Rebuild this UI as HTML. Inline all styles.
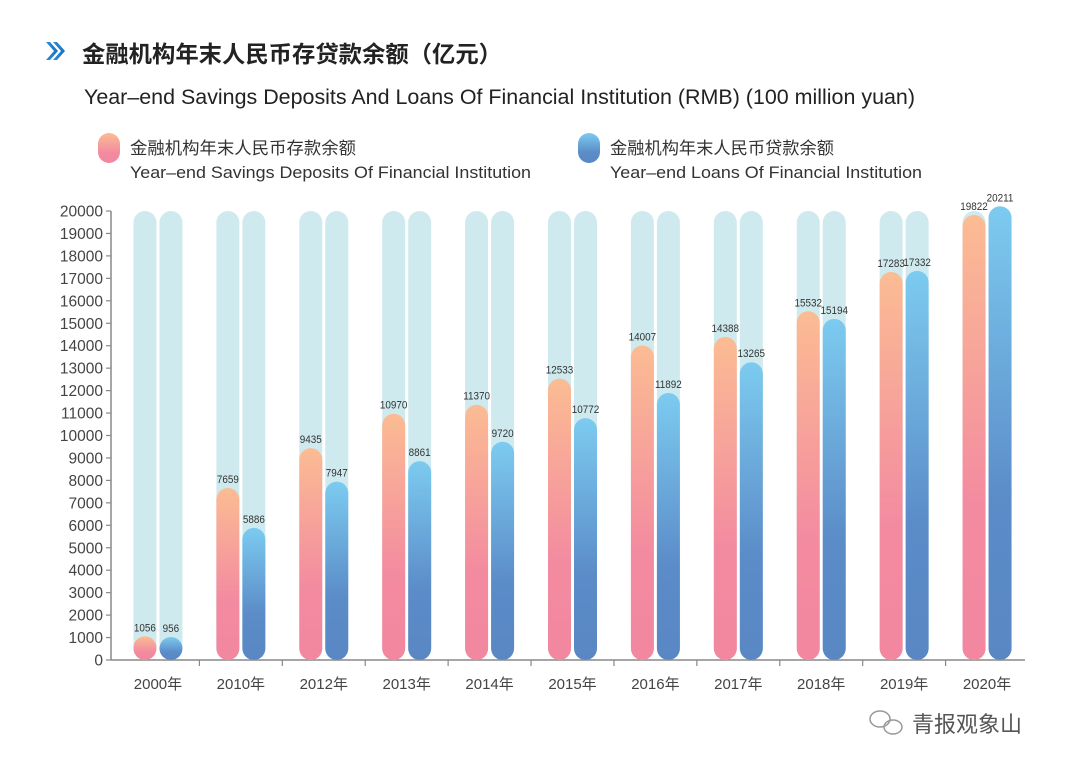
<!DOCTYPE html>
<html><head><meta charset="utf-8"><style>
body{margin:0;background:#fff;width:1080px;height:771px;overflow:hidden;font-family:"Liberation Sans","Noto Sans CJK SC",sans-serif;}
</style></head><body>
<svg width="1080" height="771" viewBox="0 0 1080 771" font-family="Liberation Sans, Noto Sans CJK SC, sans-serif">
<defs>
<linearGradient id="gDep" x1="0" y1="0" x2="0" y2="1"><stop offset="0" stop-color="#fbbc93"/><stop offset="0.65" stop-color="#f38ba0"/><stop offset="1" stop-color="#f2879f"/></linearGradient>
<linearGradient id="gLoan" x1="0" y1="0" x2="0" y2="1"><stop offset="0" stop-color="#7ccbf0"/><stop offset="0.65" stop-color="#5b8cc8"/><stop offset="1" stop-color="#5987c4"/></linearGradient>
<linearGradient id="gIcon" x1="0" y1="0" x2="1" y2="0"><stop offset="0" stop-color="#2a8fd8"/><stop offset="1" stop-color="#1a6fc0"/></linearGradient>
</defs>
<g>
<path d="M46 42 L54 51 L46 60 L50 60 L58 51 L50 42Z" fill="url(#gIcon)"/>
<path d="M53 42 L61 51 L53 60 L57 60 L65 51 L57 42Z" fill="url(#gIcon)"/>
</g>
<text x="82" y="62" font-size="23" font-weight="bold" fill="#222" textLength="420" lengthAdjust="spacingAndGlyphs">金融机构年末人民币存贷款余额（亿元）</text>
<text x="84" y="104" font-size="21.5" fill="#222" textLength="831" lengthAdjust="spacingAndGlyphs">Year–end Savings Deposits And Loans Of Financial Institution (RMB) (100 million yuan)</text>
<g>
<rect x="98" y="133" width="22" height="30" rx="11" fill="url(#gDep)"/>
<text x="130" y="154" font-size="17" fill="#333" textLength="226" lengthAdjust="spacingAndGlyphs">金融机构年末人民币存款余额</text>
<text x="130" y="178" font-size="17" fill="#333" textLength="401" lengthAdjust="spacingAndGlyphs">Year–end Savings Deposits Of Financial Institution</text>
</g>
<g>
<rect x="578" y="133" width="22" height="30" rx="11" fill="url(#gLoan)"/>
<text x="610" y="154" font-size="17" fill="#333" textLength="224" lengthAdjust="spacingAndGlyphs">金融机构年末人民币贷款余额</text>
<text x="610" y="178" font-size="17" fill="#333" textLength="312" lengthAdjust="spacingAndGlyphs">Year–end Loans Of Financial Institution</text>
</g>
<g id="plot"></g>
<g>
<ellipse cx="880" cy="719" rx="10" ry="8" fill="none" stroke="#999" stroke-width="1.5"/>
<ellipse cx="893" cy="727" rx="9" ry="7" fill="none" stroke="#999" stroke-width="1.5"/>
<text x="912" y="732" font-size="22" fill="#555">青报观象山</text>
</g>
</svg>
<script>
const categories=["2000年","2010年","2012年","2013年","2014年","2015年","2016年","2017年","2018年","2019年","2020年"];
const deposits=[1056,7659,9435,10970,11370,12533,14007,14388,15532,17283,19822];
const loans=[956,5886,7947,8861,9720,10772,11892,13265,15194,17332,20211];
const yTicks=[0,1000,2000,3000,4000,5000,6000,7000,8000,9000,10000,11000,12000,13000,14000,15000,16000,17000,18000,19000,20000];
const NS="http://www.w3.org/2000/svg";
const plot=document.getElementById('plot');
const X0=116.5,X1=1028.5,Y0=660,Y1=211,YMAX=20000,BW=23;
const bandW=(X1-X0)/categories.length;
const y=v=>Y0-(v/YMAX)*(Y0-Y1);
const xc=i=>X0+bandW*(i+0.5);
function mk(tag,attrs,parent){const e=document.createElementNS(NS,tag);for(const k in attrs)e.setAttribute(k,attrs[k]);(parent||plot).appendChild(e);return e;}
let ax=mk('line',{x1:111,y1:Y1,x2:111,y2:Y0,stroke:'#888','stroke-width':1.5});


let xa=mk('line',{x1:111,y1:Y0,x2:1025,y2:Y0,stroke:'#888','stroke-width':1.5});


yTicks.forEach(t=>{
 mk('line',{x1:106,x2:111,y1:y(t),y2:y(t),stroke:'#888','stroke-width':1.2});
 const tx=mk('text',{x:103,y:y(t)+5.5,'text-anchor':'end','font-size':15.5,fill:'#444'});
 tx.textContent=t;
 
 
});
categories.forEach((c,i)=>{
 if(i>0) mk('line',{x1:X0+bandW*i,x2:X0+bandW*i,y1:Y0,y2:Y0+6,stroke:'#888','stroke-width':1.2});
 const tx=mk('text',{x:xc(i),y:689,'text-anchor':'middle','font-size':15,fill:'#444'});
 tx.textContent=c;
 
 
 [[deposits,'url(#gDep)',-1,'deposit'],[loans,'url(#gLoan)',1,'loan']].forEach(([arr,fill,side,nm])=>{
  const bx=side<0? xc(i)-1.5-BW : xc(i)+1.5;
  const bg=mk('rect',{x:bx,y:Y1,width:BW,height:Y0-Y1,rx:BW/2,fill:'#cfeaee'});
  
  
  const top=Math.min(y(arr[i]),Y0-BW);
  const b=mk('rect',{x:bx,y:top,width:BW,height:Y0-top,rx:BW/2,fill:fill});
  
  
  const lb=mk('text',{x:bx+BW/2,y:top-5,'text-anchor':'middle','font-size':11,fill:'#333',transform:`translate(${bx+BW/2} 0) scale(0.9 1) translate(${-(bx+BW/2)} 0)`});
  lb.textContent=arr[i];
  
  
 });
});
</script>
</body></html>
